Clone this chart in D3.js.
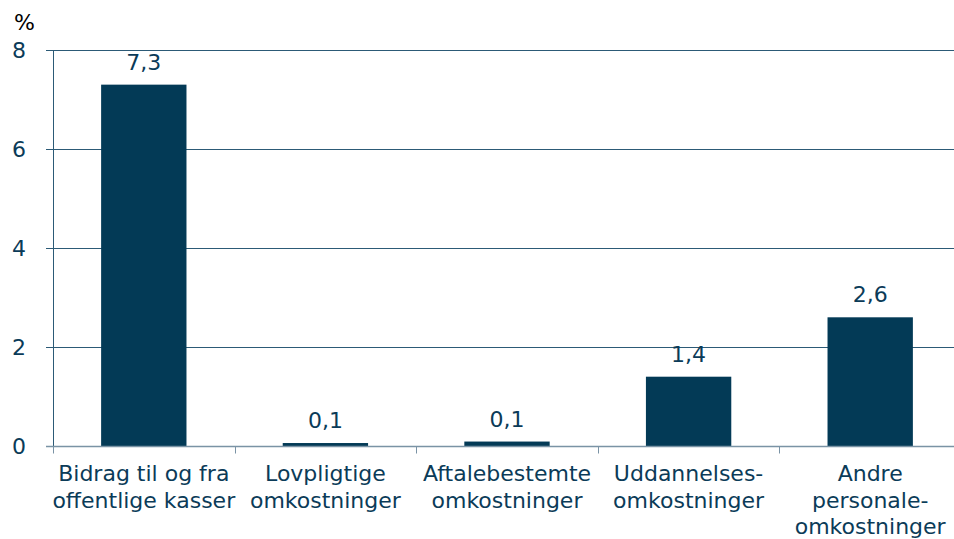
<!DOCTYPE html>
<html>
<head>
<meta charset="utf-8">
<script src="https://cdn.jsdelivr.net/npm/d3@7"></script>
<style>
  body { margin: 0; background: #fff; }
  svg text { font-family: "DejaVu Sans", Verdana, sans-serif; }
</style>
</head>
<body>
<div id="chart"></div>
<script>
// categories (line-split labels) and values in %
let categories = [
	["Bidrag til og fra", "offentlige kasser"],
	["Lovpligtige", "omkostninger"],
	["Aftalebestemte", "omkostninger"],
	["Uddannelses-", "omkostninger"],
	["Andre", "personale-", "omkostninger"]
];
let values = [7.3, 0.06, 0.09, 1.4, 2.6];
let yTicks = [0, 2, 4, 6, 8];

let width = 954, height = 539;
let margin = { top: 50, left: 53, bottom: 93 };
let plotRight = 961;

let svg = d3.select("#chart").append("svg")
	.attr("width", width)
	.attr("height", height);

let x = d3.scaleBand()
	.domain(d3.range(categories.length))
	.range([margin.left, plotRight])
	.paddingInner(0.53)
	.paddingOuter(0.265);

let y = d3.scaleLinear()
	.domain([0, 8])
	.range([height - margin.bottom, margin.top]);

let textColor = "#0b3b58";

// gridlines
svg.append("g")
	.selectAll("line")
	.data(yTicks.filter(d => d > 0))
	.enter().append("line")
	.attr("x1", margin.left - 7)
	.attr("x2", width)
	.attr("y1", d => Math.round(y(d)) + 0.5)
	.attr("y2", d => Math.round(y(d)) + 0.5)
	.attr("stroke", "#2c5a76")
	.attr("stroke-width", 1);

// y axis labels
svg.append("g")
	.selectAll("text")
	.data(yTicks)
	.enter().append("text")
	.attr("x", 26)
	.attr("y", d => y(d) + 8)
	.attr("text-anchor", "end")
	.attr("fill", textColor)
	.style("font-size", "22px")
	.text(d => d);

svg.append("text")
	.attr("x", 14)
	.attr("y", 30)
	.attr("fill", "#000")
	.style("font-size", "22px")
	.text("%");

// bars
svg.append("g")
	.selectAll("rect")
	.data(values)
	.enter().append("rect")
	.attr("x", (d, i) => x(i))
	.attr("width", x.bandwidth())
	.attr("y", d => y(d))
	.attr("height", d => y(0) - y(d))
	.attr("fill", "#033a56");

// value labels
svg.append("g")
	.selectAll("text")
	.data(values)
	.enter().append("text")
	.attr("x", (d, i) => x(i) + x.bandwidth() / 2)
	.attr("y", d => y(d) - 15)
	.attr("text-anchor", "middle")
	.attr("fill", textColor)
	.style("font-size", "22px")
	.text(d => d3.format(".1f")(d).replace(".", ","));

// y axis line
svg.append("line")
	.attr("x1", margin.left + 0.5)
	.attr("x2", margin.left + 0.5)
	.attr("y1", y(8))
	.attr("y2", y(0) + 7)
	.attr("stroke", "#2c5a76");

// x axis line and category ticks
let zeroY = Math.round(y(0)) + 0.5;
svg.append("line")
	.attr("x1", margin.left - 7)
	.attr("x2", width)
	.attr("y1", zeroY)
	.attr("y2", zeroY)
	.attr("stroke", "#7a93a5")
	.attr("stroke-width", 1.5);

let step = x.step();
svg.append("g")
	.selectAll("line")
	.data(d3.range(categories.length + 1))
	.enter().append("line")
	.attr("x1", i => Math.round(margin.left + i * step) + 0.5)
	.attr("x2", i => Math.round(margin.left + i * step) + 0.5)
	.attr("y1", zeroY)
	.attr("y2", zeroY + 7)
	.attr("stroke", "#7a93a5");

// category labels
let cat = svg.append("g")
	.selectAll("text")
	.data(categories)
	.enter().append("text")
	.attr("x", (d, i) => x(i) + x.bandwidth() / 2)
	.attr("y", 481)
	.attr("text-anchor", "middle")
	.attr("fill", textColor)
	.style("font-size", "22px");

cat.selectAll("tspan")
	.data(d => d)
	.enter().append("tspan")
	.attr("x", function() { return this.parentNode.getAttribute("x"); })
	.attr("dy", (d, j) => j === 0 ? 0 : 26.5)
	.text(d => d);
</script>
</body>
</html>
